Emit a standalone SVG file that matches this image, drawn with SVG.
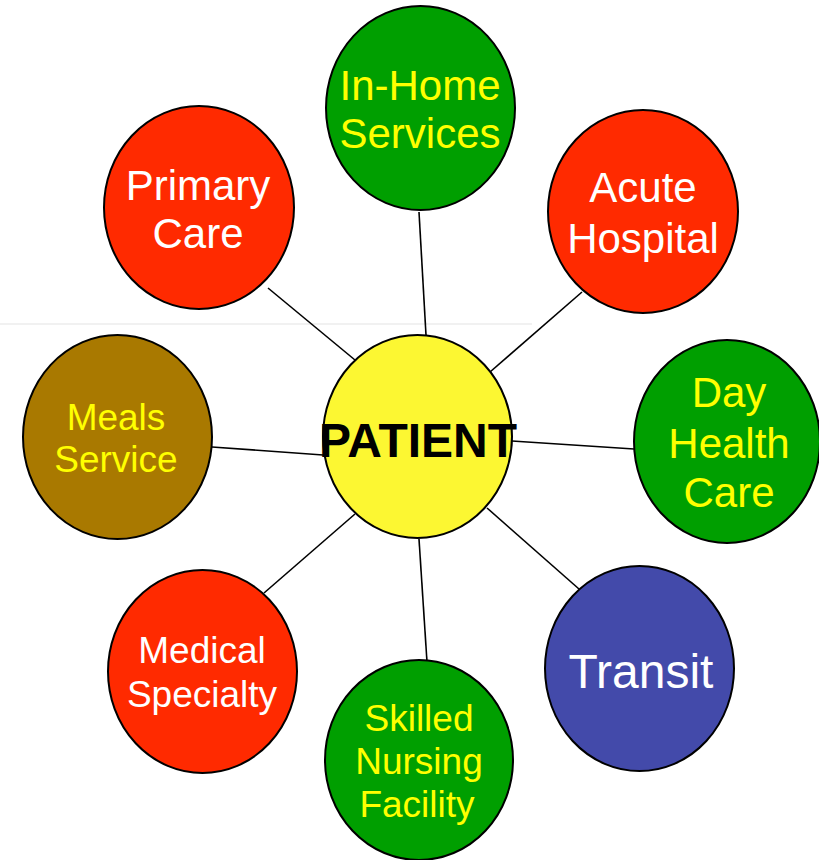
<svg xmlns="http://www.w3.org/2000/svg" width="819" height="860" viewBox="0 0 819 860">
<style>
.n{stroke:#000;stroke-width:2}
.red{fill:#ff2a00}
.grn{fill:#009f00}
.t{font-family:"Liberation Sans",Arial,sans-serif;text-anchor:middle}
.w{fill:#fff}
.y{fill:#ffff00}
.c line{stroke:#000;stroke-width:1.6}
</style>
<rect width="819" height="860" fill="#fff"/>
<line x1="0" y1="324" x2="532" y2="324" stroke="#ececec" stroke-width="1.5"/>
<g id="connectors" class="c">
<line x1="268" y1="288" x2="355" y2="360"/>
<line x1="419" y1="212" x2="426" y2="335"/>
<line x1="582" y1="292" x2="490" y2="372"/>
<line x1="212" y1="447" x2="323" y2="455"/>
<line x1="512" y1="441" x2="634" y2="449"/>
<line x1="487" y1="508" x2="579" y2="589"/>
<line x1="419" y1="539" x2="427" y2="662"/>
<line x1="264" y1="593" x2="355" y2="514"/>
</g>
<g id="in-home">
<ellipse class="n grn" cx="420.5" cy="108" rx="94.5" ry="102"/>
<text class="t y" x="420" y="100" font-size="42">In-Home</text>
<text class="t y" x="420" y="148" font-size="42">Services</text>
</g>
<g id="primary-care">
<ellipse class="n red" cx="199" cy="207.5" rx="95" ry="101.5"/>
<text class="t w" x="198" y="200" font-size="42">Primary</text>
<text class="t w" x="198" y="248" font-size="42">Care</text>
</g>
<g id="acute-hospital">
<ellipse class="n red" cx="643" cy="211.5" rx="95" ry="101.5"/>
<text class="t w" x="643" y="202" font-size="42">Acute</text>
<text class="t w" x="643" y="253" font-size="42">Hospital</text>
</g>
<g id="meals-service">
<ellipse class="n" fill="#a97900" cx="117.5" cy="437" rx="94.5" ry="102"/>
<text class="t y" x="116" y="430" font-size="37">Meals</text>
<text class="t y" x="116" y="472" font-size="37">Service</text>
</g>
<g id="day-health-care">
<ellipse class="n grn" cx="727" cy="441.5" rx="93" ry="101.5"/>
<text class="t y" x="729" y="407" font-size="42">Day</text>
<text class="t y" x="729" y="458" font-size="42">Health</text>
<text class="t y" x="729" y="507" font-size="42">Care</text>
</g>
<g id="transit">
<ellipse class="n" fill="#434aaa" cx="639.5" cy="668.5" rx="94.5" ry="102.5"/>
<text class="t w" x="641" y="688" font-size="48">Transit</text>
</g>
<g id="skilled-nursing">
<ellipse class="n grn" cx="419" cy="760" rx="94" ry="100"/>
<text class="t y" x="419" y="731" font-size="37">Skilled</text>
<text class="t y" x="419" y="774" font-size="37">Nursing</text>
<text class="t y" x="417" y="817" font-size="37">Facility</text>
</g>
<g id="medical-specialty">
<ellipse class="n red" cx="202.5" cy="671.5" rx="94.5" ry="101.5"/>
<text class="t w" x="202" y="663" font-size="37">Medical</text>
<text class="t w" x="202" y="707" font-size="37">Specialty</text>
</g>
<g id="patient">
<ellipse class="n" fill="#fcf732" cx="417.5" cy="436.5" rx="94.5" ry="101.5"/>
<text class="t" x="418" y="457" font-size="48" font-weight="bold" fill="#000">PATIENT</text>
</g>
</svg>
